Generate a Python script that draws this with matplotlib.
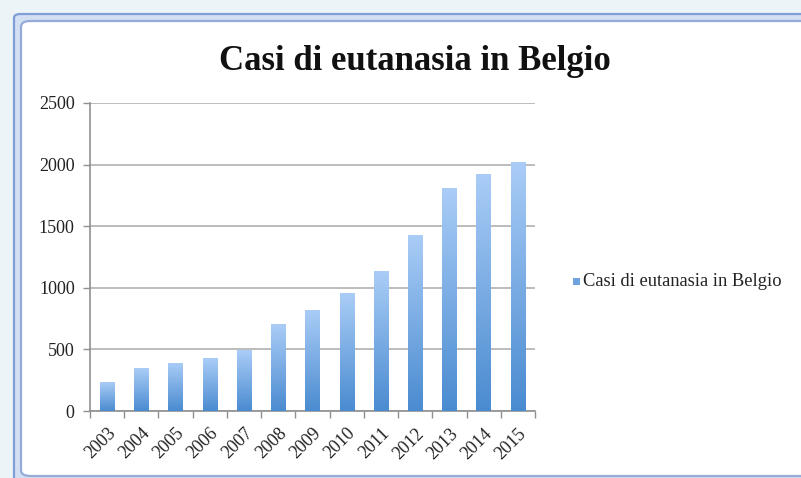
#!/usr/bin/env python3

import matplotlib
matplotlib.use("Agg")
import matplotlib.pyplot as plt
import numpy as np
from matplotlib.colors import LinearSegmentedColormap
from matplotlib.patches import FancyBboxPatch, Rectangle

plt.rcParams["font.family"] = ["Liberation Serif", "DejaVu Serif"]

years = ["2003", "2004", "2005", "2006", "2007", "2008", "2009",
         "2010", "2011", "2012", "2013", "2014", "2015"]
cases = [235, 349, 393, 429, 495, 704, 822, 954, 1133, 1432, 1807, 1924, 2022]
title = "Casi di eutanasia in Belgio"
yticks = [0, 500, 1000, 1500, 2000, 2500]

grad = LinearSegmentedColormap.from_list("bar", ["#4a8bd0", "#aacdf7"])

W, H = 801, 478


def main():
    fig = plt.figure(figsize=(W / 100, H / 100), dpi=100)
    fig.patch.set_facecolor("#edf4f7")

    # chart frame (Excel style): outer border band and inner white panel
    outer = FancyBboxPatch(
        (14 / W, -0.05), (W + 20) / W, 1 - 14 / H + 0.05,
        boxstyle="round,pad=0,rounding_size=0.008",
        transform=fig.transFigure, facecolor="#d3dff2",
        edgecolor="#7f9fd6", linewidth=1.6, zorder=-6,
    )
    inner = FancyBboxPatch(
        (21 / W, 2 / H), (W + 20) / W, 1 - 23 / H,
        boxstyle="round,pad=0,rounding_size=0.012",
        transform=fig.transFigure, facecolor="white",
        edgecolor="#95acd9", linewidth=1.6, zorder=-5,
    )
    fig.patches.extend([outer, inner])

    ax = fig.add_axes([90 / W, 67 / H, 445 / W, 308 / H], zorder=2)
    ax.set_facecolor("none")
    x = np.arange(len(years))
    bars = ax.bar(x, cases, width=0.42, color="none", zorder=3)
    g = np.linspace(0, 1, 256).reshape(-1, 1)
    for b in bars:
        x0, y0 = b.get_x(), b.get_y()
        w, h = b.get_width(), b.get_height()
        im = ax.imshow(g, cmap=grad, origin="lower", aspect="auto",
                       extent=[x0, x0 + w, y0, y0 + h], zorder=3)
        im.set_clip_path(b)

    ax.set_xlim(-0.5, len(years) - 0.5)
    ax.set_ylim(0, 2500)
    ax.set_yticks(yticks)
    ax.set_yticklabels([str(v) for v in yticks], fontsize=13, color="#222222")
    ax.set_xticks(x)
    ax.set_xticklabels(years, rotation=45, ha="right", rotation_mode="anchor",
                       fontsize=13, color="#222222")
    ax.set_xticks(np.arange(len(years) + 1) - 0.5, minor=True)
    ax.tick_params(axis="x", which="major", length=0, pad=10)
    ax.tick_params(axis="x", which="minor", length=5, color="#909090", width=1)
    ax.tick_params(axis="y", length=5, color="#909090", width=1, pad=6)
    ax.grid(axis="y", color="#b0b0b0", linewidth=1.2, zorder=1)
    for s in ["top", "right"]:
        ax.spines[s].set_visible(False)
    for s in ["left", "bottom"]:
        ax.spines[s].set_color("#909090")
        ax.spines[s].set_linewidth(1.2)

    fig.text(415 / W, 1 - 61 / H, title, ha="center", va="center",
             fontsize=25, fontweight="bold", color="#111111")

    # legend
    fig.patches.append(Rectangle((573 / W, 1 - 285 / H), 7 / W, 7 / H,
                                 transform=fig.transFigure,
                                 facecolor="#6fa3e0", edgecolor="none"))
    fig.text(583 / W, 1 - 282 / H, title, ha="left", va="center",
             fontsize=13.3, color="#222222")

    plt.savefig("out.png", dpi=100, facecolor=fig.get_facecolor())


if __name__ == "__main__":
    main()
